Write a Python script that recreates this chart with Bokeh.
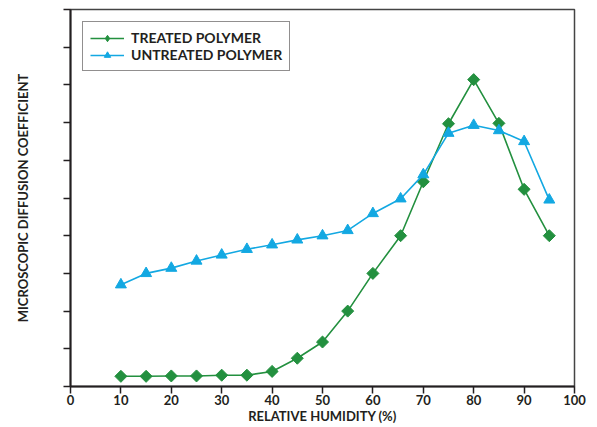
import math
from bokeh.plotting import figure
from bokeh.models import ColumnDataSource, FixedTicker, CustomJSTickFormatter, Range1d, LegendItem, Legend
from bokeh.embed import file_html
from bokeh.resources import INLINE

# Data
humidity = [10, 15, 20, 25, 30, 35, 40, 45, 50, 55, 60, 65.5, 70, 75, 80, 85, 90, 95]
treated = [0.27, 0.27, 0.28, 0.28, 0.30, 0.30, 0.40, 0.75, 1.18, 2.0, 3.0, 4.0, 5.43, 6.97, 8.14, 6.98, 5.23, 4.0]
untreated = [2.70, 3.0, 3.14, 3.33, 3.49, 3.64, 3.76, 3.89, 4.0, 4.14, 4.59, 4.98, 5.62, 6.72, 6.93, 6.79, 6.5, 4.95]

x_ticks = [0, 10, 20, 30, 40, 50, 60, 70, 80, 90, 100]
y_ticks = [0, 1, 2, 3, 4, 5, 6, 7, 8, 9, 10]

GREEN = "#23903f"
BLUE = "#13a8e2"
DARK = "#231f20"
FONT = "Lato"

src = ColumnDataSource(dict(x=humidity, t=treated, u=untreated))
# legend-only marker source (not drawn in the plot area)
legend_src = ColumnDataSource(dict(x=[float("nan")], y=[float("nan")]))

p = figure(width=597, height=427, output_backend="svg", toolbar_location=None,
           x_range=Range1d(0, 100), y_range=Range1d(0, 10),
           min_border_left=70, min_border_right=23, min_border_top=9, min_border_bottom=41)

t_line = p.line("x", "t", source=src, color=GREEN, line_width=1.6)
p.scatter("x", "t", source=src, marker="square", angle=math.pi / 4, size=8.5, color=GREEN)
t_leg = p.scatter("x", "y", source=legend_src, marker="diamond", size=13, color=GREEN)
u_line = p.line("x", "u", source=src, color=BLUE, line_width=1.6)
u_pts = p.scatter("x", "u", source=src, marker="triangle", size=11, color=BLUE)

p.grid.visible = False
p.outline_line_color = "#444444"
p.outline_line_width = 1.5

p.xaxis.ticker = FixedTicker(ticks=x_ticks)
p.yaxis.ticker = FixedTicker(ticks=y_ticks)
p.yaxis.formatter = CustomJSTickFormatter(code="return ''")

for ax in (p.xaxis[0], p.yaxis[0]):
    ax.axis_line_color = DARK
    ax.axis_line_width = 2
    ax.major_tick_line_color = DARK
    ax.major_tick_line_width = 1.5
    ax.major_tick_in = 0
    ax.major_tick_out = 7
    ax.minor_tick_line_color = None
    ax.major_label_text_font = FONT
    ax.major_label_text_font_style = "bold"
    ax.major_label_text_font_size = "13px"
    ax.major_label_text_color = DARK
    ax.axis_label_text_font = FONT
    ax.axis_label_text_font_style = "bold"
    ax.axis_label_text_font_size = "13px"
    ax.axis_label_text_color = DARK

p.xaxis.axis_label = "RELATIVE HUMIDITY (%)"
p.xaxis.major_label_standoff = 1
p.xaxis.axis_label_standoff = 0
p.yaxis.axis_label = "MICROSCOPIC DIFFUSION COEFFICIENT"
p.yaxis.major_label_standoff = 0
p.yaxis.axis_label_standoff = 33

leg = Legend(items=[
    LegendItem(label="TREATED POLYMER", renderers=[t_line, t_leg]),
    LegendItem(label="UNTREATED POLYMER", renderers=[u_line, u_pts]),
])
p.add_layout(leg, "center")
leg.location = "top_left"
leg.margin = 12
leg.padding = 7
leg.spacing = 0
leg.border_line_color = DARK
leg.border_line_width = 1.2
leg.glyph_width = 34
leg.glyph_height = 16
leg.label_height = 16
leg.label_standoff = 7
leg.label_text_font = FONT
leg.label_text_font_style = "bold"
leg.label_text_font_size = "14px"
leg.label_text_color = DARK
leg.background_fill_alpha = 1

open("out.html", "w").write(file_html(p, INLINE))
